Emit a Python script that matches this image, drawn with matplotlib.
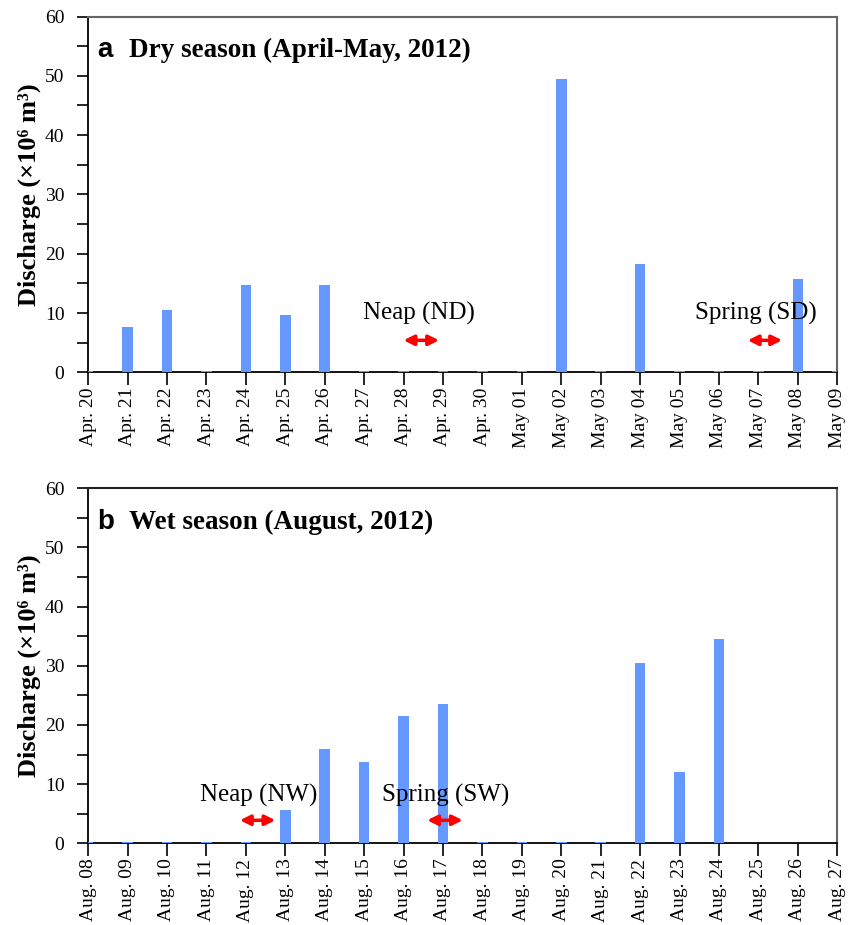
import matplotlib
matplotlib.use('Agg')
import matplotlib.pyplot as plt
from matplotlib.ticker import MultipleLocator

# panel a: dry season
dry_labels = ['Apr. 20', 'Apr. 21', 'Apr. 22', 'Apr. 23', 'Apr. 24', 'Apr. 25',
              'Apr. 26', 'Apr. 27', 'Apr. 28', 'Apr. 29', 'Apr. 30', 'May 01',
              'May 02', 'May 03', 'May 04', 'May 05', 'May 06', 'May 07',
              'May 08', 'May 09']
dry_values = [0.3, 7.7, 10.5, 0.3, 14.7, 9.6, 14.7, 0.3, 0.3, 0.3, 0.3, 0.3,
              49.4, 0.3, 18.3, 0.3, 0.3, 0.3, 15.8, 0.3]

# panel b: wet season
wet_labels = ['Aug. %02d' % d for d in range(8, 28)]
wet_values = [0.3, 0.3, 0.3, 0.3, 0.3, 5.6, 16.0, 13.8, 21.6, 23.5,
              0.3, 0.3, 0.3, 0.3, 30.4, 12.1, 34.6, 0, 0, 0]

# tide annotations: (text, text x, text y, arrow start, arrow end, arrow y)
dry_tides = [('Neap (ND)', 8.39, 9.9, 8.0, 8.9, 5.4),
             ('Spring (SD)', 16.93, 9.9, 16.73, 17.6, 5.4)]
wet_tides = [('Neap (NW)', 4.33, 8.1, 3.85, 4.75, 3.9),
             ('Spring (SW)', 9.07, 8.1, 8.6, 9.5, 3.9)]

SERIF = ['Liberation Serif', 'DejaVu Serif']
BAR_COLOR = '#6699ff'


def draw_panel(ax, labels, values, tides, letter, title, top_color):
    x = list(range(len(labels)))
    ax.bar(x, values, width=0.27, color=BAR_COLOR, zorder=3)
    ax.set_xlim(0, len(labels) - 1)
    ax.set_ylim(0, 60)
    ax.set_xticks(x)
    ax.set_xticklabels(labels, rotation=90, family=SERIF, fontsize=14)
    ax.yaxis.set_major_locator(MultipleLocator(10))
    ax.yaxis.set_minor_locator(MultipleLocator(5))
    for lab in ax.get_yticklabels():
        lab.set_family(SERIF)
        lab.set_fontsize(14)
    ax.tick_params(axis='y', which='both', direction='out', length=8, width=1.2,
                   pad=9)
    ax.tick_params(axis='x', direction='out', length=9, width=1.2, pad=2)
    ax.spines['left'].set_linewidth(1.3)
    ax.spines['bottom'].set_linewidth(1.3)
    ax.spines['top'].set_color(top_color)
    ax.spines['right'].set_color('#666666')
    ax.spines['top'].set_linewidth(1.5)
    ax.spines['right'].set_linewidth(1.5)
    ax.set_ylabel('Discharge (×10⁶ m³)', family=SERIF,
                  fontweight='bold', fontsize=19, labelpad=3)
    ax.text(0.012, 0.905, letter, transform=ax.transAxes, family='Liberation Sans',
            fontweight='bold', fontsize=20, va='center')
    ax.text(0.055, 0.905, title, transform=ax.transAxes, family=SERIF,
            fontweight='bold', fontsize=19.5, va='center')
    for txt, tx, ty, a0, a1, ay in tides:
        ax.text(tx, ty, txt, family=SERIF, fontsize=18, ha='center', va='center',
                zorder=4)
        ax.annotate('', xy=(a1, ay), xytext=(a0, ay),
                    arrowprops=dict(arrowstyle='<|-|>', color='#ff0000', lw=2.5,
                                    mutation_scale=15, shrinkA=0, shrinkB=0))


fig = plt.figure(figsize=(8.57, 9.25), dpi=100)
ax1 = fig.add_axes([0.1028, 0.5975, 0.8742, 0.3846])
ax2 = fig.add_axes([0.1028, 0.0883, 0.8742, 0.3838])

draw_panel(ax1, dry_labels, dry_values, dry_tides, 'a',
           'Dry season (April-May, 2012)', '#666666')
draw_panel(ax2, wet_labels, wet_values, wet_tides, 'b',
           'Wet season (August, 2012)', '#222222')

fig.savefig('out.png', dpi=100)
